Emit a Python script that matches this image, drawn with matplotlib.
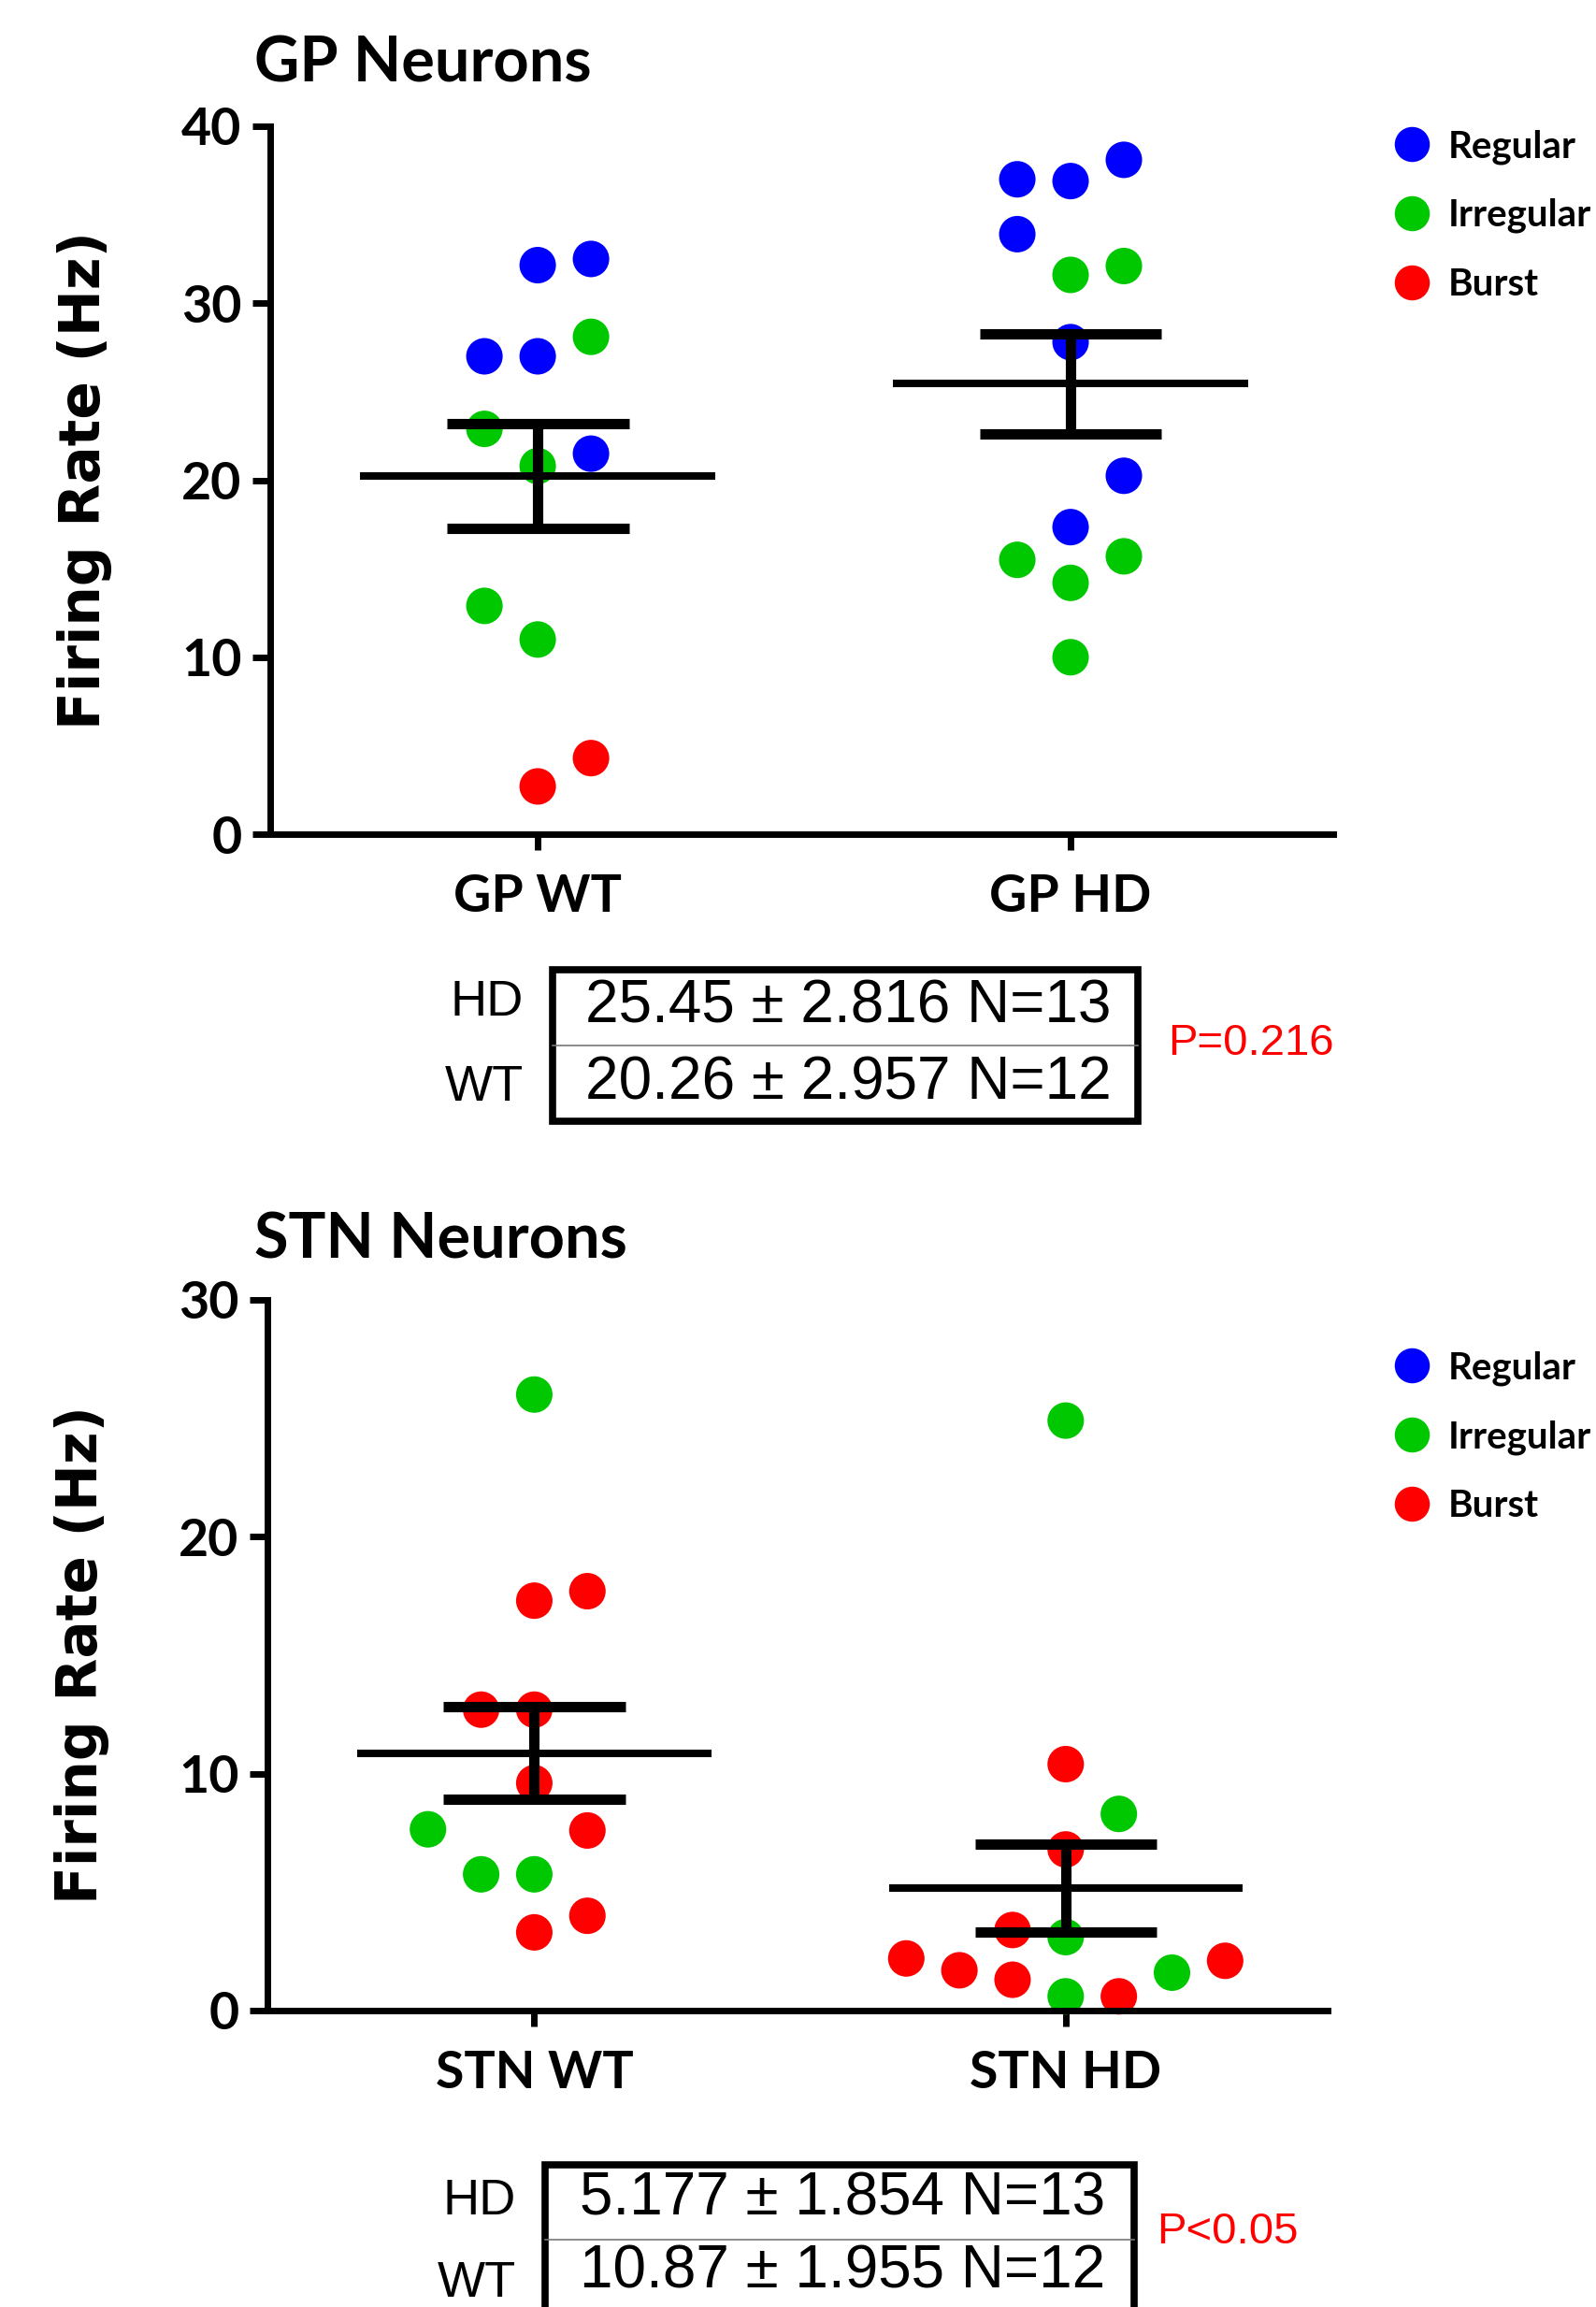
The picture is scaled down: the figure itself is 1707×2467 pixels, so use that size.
import matplotlib
matplotlib.use("Agg")
import matplotlib.pyplot as plt
from matplotlib.lines import Line2D
from matplotlib.patches import Rectangle

plt.rcParams['font.family'] = ['Lato', 'DejaVu Sans']

# neuron firing types and colours
type_names = ['Regular', 'Irregular', 'Burst']
type_colors = {'R': '#0000ff', 'I': '#00c800', 'B': '#ff0000'}

# GP panel: rate (Hz), column slot inside the group, firing type
gp_wt_rate = [32.15, 32.5, 28.1, 27.0, 27.0, 22.9, 20.8, 21.5, 12.9, 11.0, 4.3, 2.7]
gp_wt_slot = [0, 1, 1, -1, 0, -1, 0, 1, -1, 0, 1, 0]
gp_wt_type = ['R', 'R', 'I', 'R', 'R', 'I', 'I', 'R', 'I', 'I', 'B', 'B']

gp_hd_rate = [37.0, 36.9, 38.1, 33.9, 31.6, 32.1, 27.8, 20.25, 17.35, 15.5, 15.7, 14.2, 10.0]
gp_hd_slot = [-1, 0, 1, -1, 0, 1, 0, 1, 0, -1, 1, 0, 0]
gp_hd_type = ['R', 'R', 'R', 'R', 'I', 'I', 'R', 'R', 'R', 'I', 'I', 'I', 'I']

# STN panel
stn_wt_rate = [26.0, 17.3, 17.7, 12.7, 12.7, 9.6, 7.65, 7.6, 5.75, 5.75, 4.0, 3.3]
stn_wt_slot = [0, 0, 1, -1, 0, 0, -2, 1, -1, 0, 1, 0]
stn_wt_type = ['I', 'B', 'B', 'B', 'B', 'B', 'I', 'B', 'I', 'I', 'B', 'B']

stn_hd_rate = [24.9, 10.4, 8.3, 6.8, 3.4, 3.1, 2.2, 1.7, 1.3, 1.6, 2.1, 0.6, 0.6]
stn_hd_slot = [0, 0, 1, 0, -1, 0, -3, -2, -1, 2, 3, 0, 1]
stn_hd_type = ['I', 'B', 'I', 'B', 'B', 'I', 'B', 'B', 'B', 'I', 'B', 'I', 'B']

# summary stats (mean, sem, n) as reported in the tables
gp_wt_stats = (20.26, 2.957, 12)
gp_hd_stats = (25.45, 2.816, 13)
stn_wt_stats = (10.87, 1.955, 12)
stn_hd_stats = (5.177, 1.854, 13)
gp_p = 'P=0.216'
stn_p = 'P<0.05'

fig = plt.figure(figsize=(17.08, 24.67), dpi=100)


def panel(ax, groups, names, ymax, step):
    for g, (rate, slot, kind, stats) in enumerate(groups):
        xs = [g + 0.1 * s for s in slot]
        ax.scatter(xs, rate, s=790, c=[type_colors[k] for k in kind],
                   edgecolors='none', zorder=2, clip_on=False)
        m, e, n = stats
        ax.hlines(m, g - 0.333, g + 0.333, color='k', lw=5.8, zorder=3)
        ax.hlines([m - e, m + e], g - 0.171, g + 0.171, color='k', lw=8, zorder=3)
        ax.vlines(g, m - e, m + e, color='k', lw=8, zorder=3)
    ax.set_xlim(-0.502, 1.493)
    ax.set_ylim(0, ymax)
    ax.set_yticks(range(0, ymax + 1, step))
    ax.set_xticks([0, 1])
    ax.set_xticklabels(names, fontweight='bold', fontsize=40)
    for lab in ax.get_yticklabels():
        lab.set_fontweight('bold')
    for s in ['top', 'right']:
        ax.spines[s].set_visible(False)
    for s in ['left', 'bottom']:
        ax.spines[s].set_linewidth(5)
    ax.tick_params(axis='y', length=14, width=5, pad=8, labelsize=40)
    ax.tick_params(axis='x', length=12, width=5, pad=18)
    ax.set_ylabel('Firing Rate (Hz)', family='DejaVu Sans', fontweight='bold', fontsize=43)
    ax.yaxis.label.set_va('center')
    ax.yaxis.set_label_coords(-0.175, 0.5)


def legend(ax, y):
    handles = [Line2D([], [], ls='none', marker='o', ms=27, mfc=type_colors[k], mec='none')
               for k in ['R', 'I', 'B']]
    ax.legend(handles, type_names, loc='upper left', bbox_to_anchor=(0.8724, y),
              bbox_transform=fig.transFigure,
              frameon=False, borderpad=0, borderaxespad=0, handlelength=1.0,
              handletextpad=0.45, labelspacing=0.9,
              prop=dict(family='Lato', weight='bold', size=29))


def table(x0, x1, ytop, ymid, ybot, rows, labels_y, row_y, p, p_xy):
    fig.add_artist(Rectangle((x0, ybot), x1 - x0, ytop - ybot, transform=fig.transFigure,
                             fill=False, ec='k', lw=5.5))
    fig.add_artist(Line2D([x0, x1], [ymid, ymid], transform=fig.transFigure,
                          color='#777777', lw=1.2))
    for (name, (m, e, n)), ly, ry in zip(rows, labels_y, row_y):
        fig.text(x0 - 0.018, ly, name, ha='right', va='center', fontsize=39,
                 family='Liberation Sans')
        fig.text((x0 + x1) / 2 + 0.002, ry, f'{m} \u00b1 {e} N={n}', ha='center',
                 va='center', fontsize=46, family='Liberation Sans')
    fig.text(p_xy[0], p_xy[1], p, ha='left', va='center', fontsize=34,
             family='Liberation Sans', color='#ff0000')


ax1 = fig.add_axes([0.1692, 0.6384, 0.6657, 0.3069])
panel(ax1, [(gp_wt_rate, gp_wt_slot, gp_wt_type, gp_wt_stats),
            (gp_hd_rate, gp_hd_slot, gp_hd_type, gp_hd_stats)],
      ['GP WT', 'GP HD'], 40, 10)
legend(ax1, 0.9440)
fig.text(0.1593, 0.9646, 'GP Neurons', fontsize=48, fontweight='bold', va='baseline')
table(0.346, 0.7126, 0.5797, 0.5468, 0.514,
      [('HD', gp_hd_stats), ('WT', gp_wt_stats)], [0.5655, 0.5285], [0.5638, 0.5305],
      gp_p, (0.7312, 0.5476))

ax2 = fig.add_axes([0.1675, 0.1285, 0.6639, 0.3081])
panel(ax2, [(stn_wt_rate, stn_wt_slot, stn_wt_type, stn_wt_stats),
            (stn_hd_rate, stn_hd_slot, stn_hd_type, stn_hd_stats)],
      ['STN WT', 'STN HD'], 30, 10)
legend(ax2, 0.4145)
fig.text(0.1593, 0.4548, 'STN Neurons', fontsize=48, fontweight='bold', va='baseline')
table(0.3413, 0.710, 0.0616, 0.0292, -0.03,
      [('HD', stn_hd_stats), ('WT', stn_wt_stats)], [0.0458, 0.0101], [0.0467, 0.015],
      stn_p, (0.7243, 0.0325))

fig.savefig('out.png', dpi=100)
